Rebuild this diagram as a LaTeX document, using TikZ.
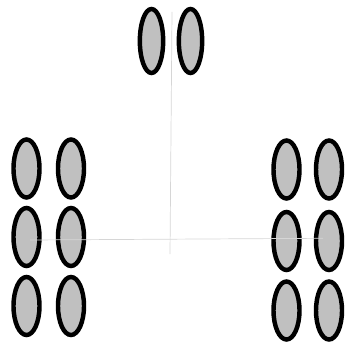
\documentclass[tikz,border=0pt]{standalone}
\usepackage{tikz}
\usetikzlibrary{shapes.geometric}
\definecolor{PodGray}{RGB}{192,192,192}
\definecolor{AxisGray}{RGB}{214,214,214}
\tikzset{
  pod/.style={ellipse, draw=black, line width=3.8pt, fill=PodGray, inner sep=0pt,
    minimum width=0.78cm, minimum height=1.74cm},
  podtop/.style={pod, minimum width=0.7cm, minimum height=1.92cm},
  axisline/.style={draw=AxisGray, line width=0.6pt},
}
\begin{document}
\begin{tikzpicture}[x=0.03cm, y=-0.03cm]
  \useasboundingbox (0,0) rectangle (347,344);
  \node[podtop] (ta) at (151.5,41) {};
  \node[podtop] (tb) at (190.5,41) {};
  \node[pod] (la) at (26.5,168.5) {};  \node[pod] (lb) at (71,168.5) {};
  \node[pod] (lc) at (26.5,237) {};    \node[pod] (ld) at (71,237) {};
  \node[pod] (le) at (26.5,306) {};    \node[pod] (lf) at (71,306) {};
  \node[pod] (ra) at (286.5,169.5) {}; \node[pod] (rb) at (329,169.5) {};
  \node[pod] (rc) at (286.5,241) {};   \node[pod] (rd) at (329,241) {};
  \node[pod] (re) at (286.5,310.5) {}; \node[pod] (rf) at (329,310.5) {};
  \coordinate (vtop) at (172,12);
  \coordinate (vbot) at (170,254);
  \coordinate (hl) at (30,240);
  \coordinate (hr) at (323,238.3);
  \draw[axisline] (vtop) -- (vbot);
  \draw[axisline] (hl) -- (hr);
\end{tikzpicture}
\end{document}
